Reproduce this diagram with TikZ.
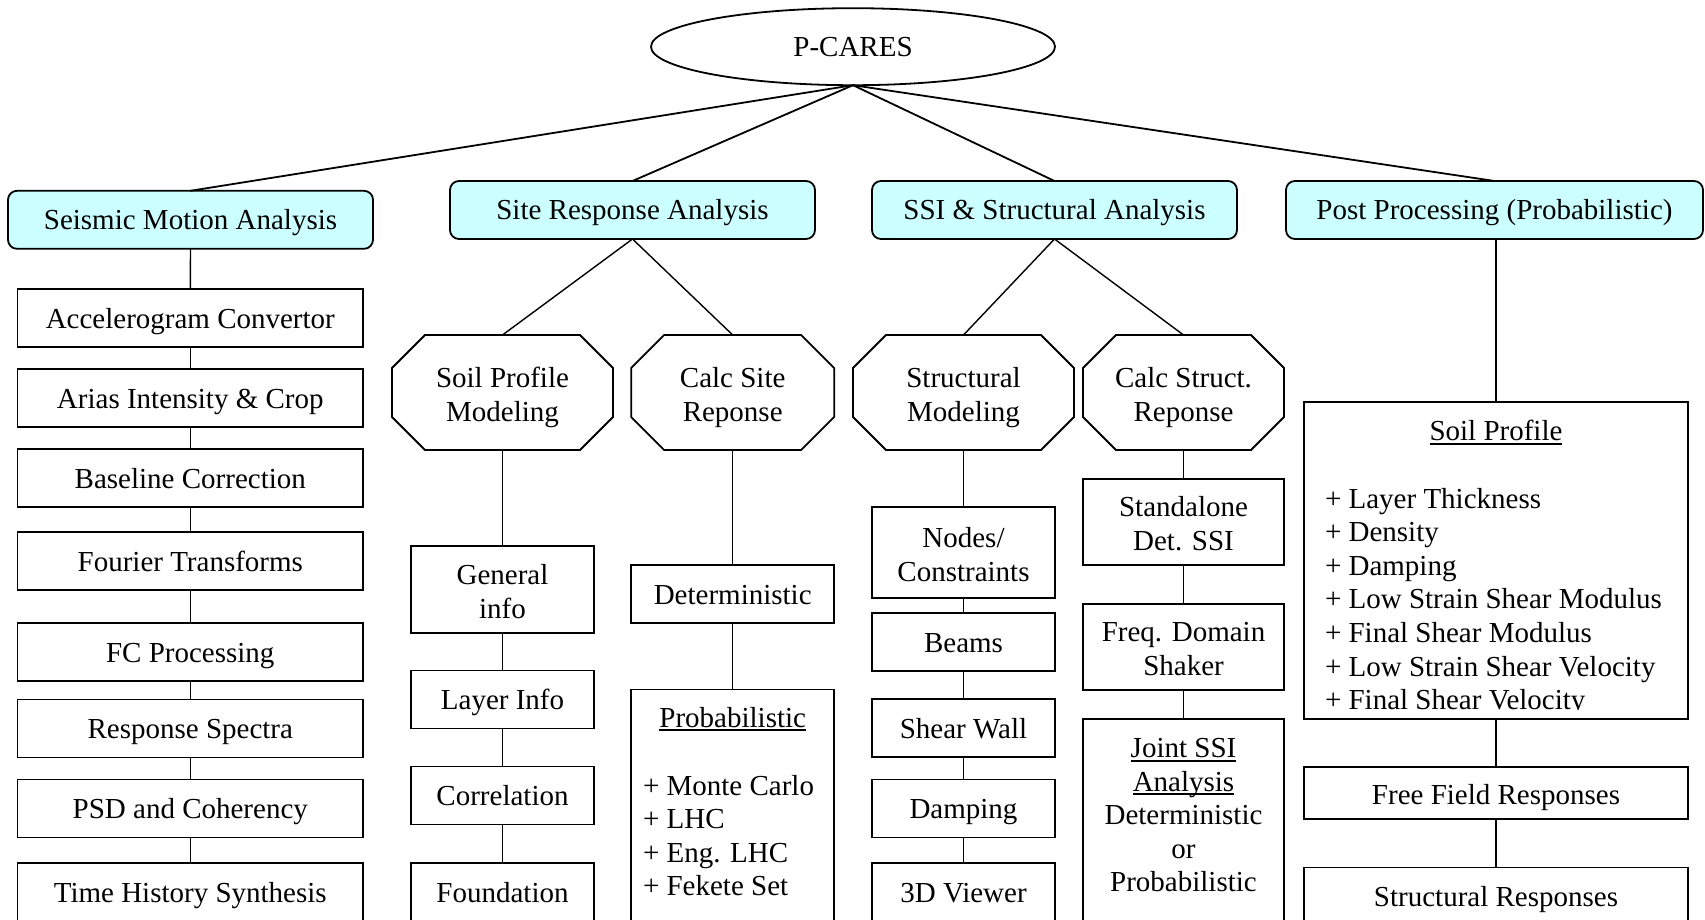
\documentclass[tikz,border=0pt]{standalone}
\usepackage{fontspec}
\setmainfont{Liberation Serif}
\usetikzlibrary{shapes.geometric}
\definecolor{topfill}{HTML}{CCFFFF}
\newcommand\ulx[1]{\leavevmode\setbox0\hbox{#1}\rlap{\rule[-4pt]{\wd0}{1.7pt}}\box0}
\newcommand\twol[2]{\rule{0pt}{23.5pt}#1\\\smash{#2}}
\newcommand\octo[1]{\draw[shapeline] ([xshift=33pt]#1.north west) -- ([xshift=-33pt]#1.north east) -- ([yshift=-33pt]#1.north east) -- ([yshift=33pt]#1.south east) -- ([xshift=-33pt]#1.south east) -- ([xshift=33pt]#1.south west) -- ([yshift=33pt]#1.south west) -- ([yshift=-33pt]#1.north west) -- cycle;}
\begin{document}
\begin{tikzpicture}[x=1pt,y=-1pt,
  every node/.style={font=\fontsize{29}{33.6}\selectfont, inner sep=0pt, outer sep=0pt},
  shapeline/.style={line width=1.8pt},
  topbox/.style={draw, shapeline, rounded corners=9pt, fill=topfill, minimum width=365pt, minimum height=58pt, text height=20pt, text depth=0pt},
  plainbox/.style={draw, shapeline, align=center, minimum height=58pt},
  oneline/.style={text height=20pt, text depth=0pt},
  seisbox/.style={plainbox, oneline, minimum width=345.5pt},
  octbox/.style={align=center, minimum height=115pt},
  conn/.style={line width=1.4pt},
  topconn/.style={line width=1.8pt},
  txt/.style={anchor=base west},
  ctxt/.style={anchor=base},
]
\path[use as bounding box] (0,0) rectangle (1705,920);

% root
\node[draw, shapeline, ellipse, minimum width=404pt, minimum height=77pt] (pc) at (853,46.7) {P-CARES};

% top level
\node[topbox] (sma) at (190.5,219.8) {Seismic Motion Analysis};
\node[topbox] (sra) at (632.5,210) {Site Response Analysis};
\node[topbox] (ssi) at (1054.5,210) {SSI \& Structural Analysis};
\node[topbox, minimum width=417pt] (pp) at (1494.5,210) {Post Processing (Probabilistic)};

% seismic column
\node[seisbox] (acc) at (190.3,318) {Accelerogram Convertor};
\node[seisbox] (arias) at (190.3,398) {Arias Intensity \& Crop};
\node[seisbox] (base) at (190.3,478) {Baseline Correction};
\node[seisbox] (four) at (190.3,561) {Fourier Transforms};
\node[seisbox] (fc) at (190.3,652) {FC Processing};
\node[seisbox] (rs) at (190.3,728.5) {Response Spectra};
\node[seisbox] (psd) at (190.3,808.5) {PSD and Coherency};
\node[seisbox] (ths) at (190.3,892) {Time History Synthesis};

% site column
\node[octbox, minimum width=221pt] (spm) at (502.5,392.5) {\twol{Soil Profile}{Modeling}};
\node[octbox, minimum width=203pt] (csr) at (732.7,392.5) {\twol{Calc Site}{Reponse}};
\octo{spm}
\octo{csr}
\node[plainbox, minimum width=183pt, minimum height=87pt] (gen) at (502.5,589.5) {\twol{General}{info}};
\node[plainbox, oneline, minimum width=183pt] (layer) at (502.5,699.5) {Layer Info};
\node[plainbox, oneline, minimum width=183pt] (corr) at (502.5,795.5) {Correlation};
\node[plainbox, oneline, minimum width=183pt] (found) at (502.5,892) {Foundation};
\node[plainbox, oneline, minimum width=203pt] (det) at (732.7,594) {Deterministic};
\node[draw, shapeline, minimum width=203pt, minimum height=240pt] (prob) at (732.7,809.5) {};
\node[ctxt] (probt) at (732.7,727) {\ulx{Probabilistic}};
\node[txt] (p1) at (643,795) {+ Monte Carlo};
\node[txt] (p2) at (643,828.6) {+ LHC};
\node[txt] (p3) at (643,862.2) {+ Eng. LHC};
\node[txt] (p4) at (643,895.8) {+ Fekete Set};

% SSI column
\node[octbox, minimum width=221pt] (sm) at (963.5,392.5) {\twol{Structural}{Modeling}};
\node[octbox, minimum width=201pt] (cs) at (1183.5,392.5) {\twol{Calc Struct.}{Reponse}};
\octo{sm}
\octo{cs}
\node[plainbox, minimum width=183pt, minimum height=91pt] (nodes) at (963.5,552.5) {\twol{Nodes/}{Constraints}};
\node[plainbox, oneline, minimum width=183pt] (beams) at (963.5,642) {Beams};
\node[plainbox, oneline, minimum width=183pt] (shear) at (963.5,728) {Shear Wall};
\node[plainbox, oneline, minimum width=183pt] (damp) at (963.5,808.5) {Damping};
\node[plainbox, oneline, minimum width=183pt] (view) at (963.5,892) {3D Viewer};
\node[plainbox, minimum width=201pt, minimum height=86pt] (sdssi) at (1183.5,522) {\twol{Standalone}{Det. SSI}};
\node[plainbox, minimum width=201pt, minimum height=86pt] (fds) at (1183.5,647) {\twol{Freq. Domain}{Shaker}};
\node[draw, shapeline, minimum width=201pt, minimum height=240pt] (joint) at (1183.5,838.7) {};
\node[ctxt] (j1) at (1183.5,757.5) {\ulx{Joint SSI}};
\node[ctxt] (j2) at (1183.5,791.1) {\ulx{Analysis}};
\node[ctxt] (j3) at (1183.5,824.7) {Deterministic};
\node[ctxt] (j4) at (1183.5,858.3) {or};
\node[ctxt] (j5) at (1183.5,891.9) {Probabilistic};

% post processing column
\node[draw, shapeline, minimum width=384pt, minimum height=317pt] (soil) at (1496,560.5) {};
\node[ctxt] (soilt) at (1496,440.7) {\ulx{Soil Profile}};
\begin{scope}
\clip (1300,470) rectangle (1690,709);
\node[txt] (s1) at (1325,508) {+ Layer Thickness};
\node[txt] (s2) at (1325,541.6) {+ Density};
\node[txt] (s3) at (1325,575.2) {+ Damping};
\node[txt] (s4) at (1325,608.8) {+ Low Strain Shear Modulus};
\node[txt] (s5) at (1325,642.4) {+ Final Shear Modulus};
\node[txt] (s6) at (1325,676) {+ Low Strain Shear Velocity};
\node[txt] (s7) at (1325,709.6) {+ Final Shear Velocity};
\end{scope}
\node[plainbox, minimum width=384pt, minimum height=52pt, text height=23pt, text depth=0pt] (ffr) at (1496,793) {Free Field Responses};
\node[plainbox, oneline, minimum width=384pt] (str) at (1496,896.5) {Structural Responses};

% connectors from root
\foreach \b in {sma,sra,ssi,pp} \draw[topconn] (pc.south) -- (\b.north);

% column connectors
\foreach \a/\b in {sma/acc,acc/arias,arias/base,base/four,four/fc,fc/rs,rs/psd,psd/ths,
  sra/spm,sra/csr,spm/gen,gen/layer,layer/corr,corr/found,csr/det,det/prob,
  ssi/sm,ssi/cs,sm/nodes,nodes/beams,beams/shear,shear/damp,damp/view,cs/sdssi,sdssi/fds,fds/joint,
  soil/ffr,ffr/str}
  \draw[conn] (\a.south) -- (\b.north);
\draw[conn] (pp.south -| soil.north) -- (soil.north);
\end{tikzpicture}
\end{document}
